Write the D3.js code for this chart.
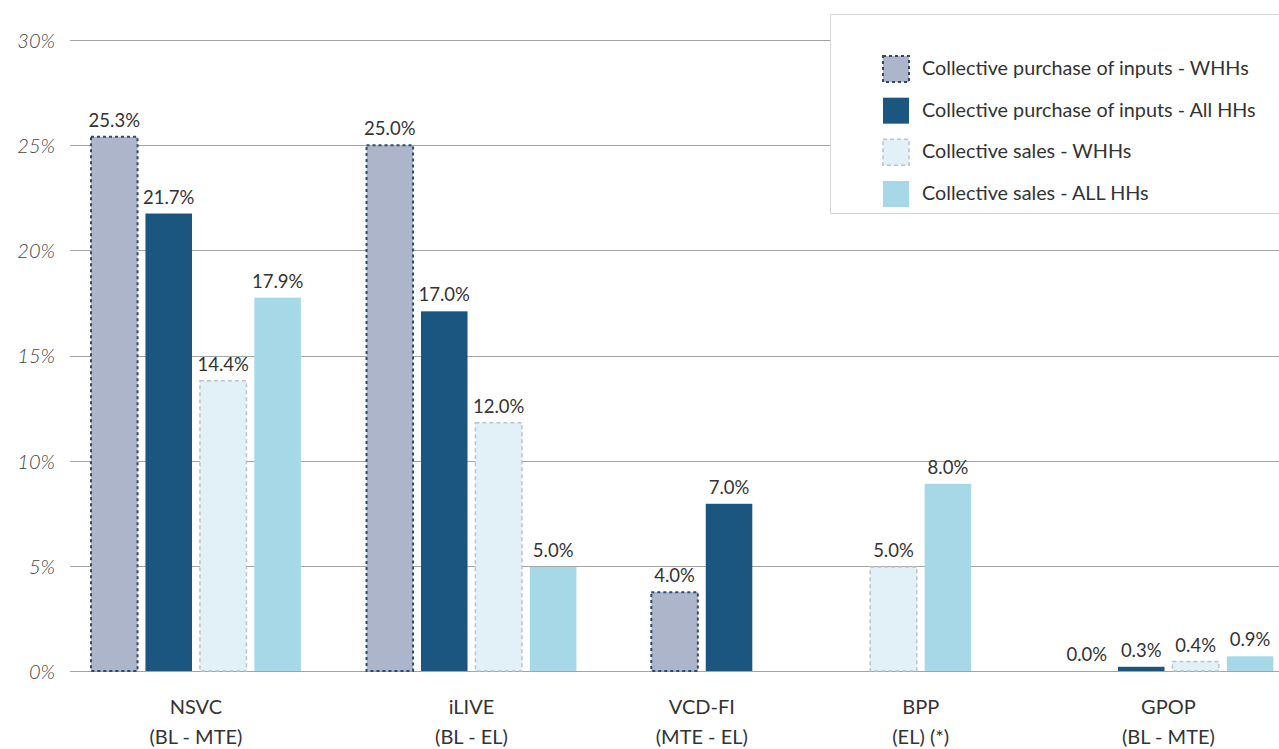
<!DOCTYPE html>
<html>
<head>
<meta charset="utf-8">
<script src="https://cdn.jsdelivr.net/npm/d3@7"></script>
<style>
  html, body { margin: 0; padding: 0; background: #fff; overflow: hidden; }
  svg { display: block; font-family: Lato, "Open Sans", sans-serif; }
</style>
</head>
<body>
<svg id="chart" width="1279" height="749"></svg>
<script>
// ---------- data ----------
const categories = ["NSVC", "iLIVE", "VCD-FI", "BPP", "GPOP"];
const categoryPeriods = ["(BL - MTE)", "(BL - EL)", "(MTE - EL)", "(EL) (*)", "(BL - MTE)"];

const seriesNames = [
  "Collective purchase of inputs - WHHs",
  "Collective purchase of inputs - All HHs",
  "Collective sales - WHHs",
  "Collective sales - ALL HHs"
];

// bar heights as drawn in the picture (percent); null = no bar
const purchaseWHH = [25.4, 25.0, 3.75, null, 0];
const purchaseAll = [21.75, 17.1, 7.95, null, 0.2];
const salesWHH    = [13.8, 11.8, null, 4.95, 0.45];
const salesAll    = [17.75, 4.95, null, 8.9, 0.7];

// value labels as printed
const purchaseWHHLabels = ["25.3%", "25.0%", "4.0%", null, "0.0%"];
const purchaseAllLabels = ["21.7%", "17.0%", "7.0%", null, "0.3%"];
const salesWHHLabels    = ["14.4%", "12.0%", null, "5.0%", "0.4%"];
const salesAllLabels    = ["17.9%", "5.0%", null, "8.0%", "0.9%"];

const yTicks = [0, 5, 10, 15, 20, 25, 30];
const yTickLabels = ["0%", "5%", "10%", "15%", "20%", "25%", "30%"];

// ---------- layout / style ----------
const seriesValues = [purchaseWHH, purchaseAll, salesWHH, salesAll];
const seriesLabels = [purchaseWHHLabels, purchaseAllLabels, salesWHHLabels, salesAllLabels];
const seriesStyle = [
  { fill: "#adb5cb", stroke: "#2c4a6d", dash: "3,3", sw: 2 },
  { fill: "#1b5680", stroke: "none", dash: null, sw: 0 },
  { fill: "#e1f1f7", stroke: "#b9c3ca", dash: "4,3", sw: 1.5 },
  { fill: "#a6d8e8", stroke: "none", dash: null, sw: 0 }
];
// starting slot of each category group (in bar-step units)
const groupStartSlot = [0, 5.06, 10.29, 14.31, 17.86];
const barWidthSlots = 0.855;

const svg = d3.select("#chart");
const W = 1279;
const plotLeft = 70, plotRight = W;

const y = d3.scaleLinear().domain([0, 30]).range([671, 40]);
const xSlot = d3.scaleLinear().domain([0, 20]).range([91, 91 + 20 * 54.45]);

// gridlines
svg.append("g").selectAll("line")
  .data(yTicks).join("line")
  .attr("x1", plotLeft).attr("x2", plotRight)
  .attr("y1", d => Math.round(y(d)) + 0.5).attr("y2", d => Math.round(y(d)) + 0.5)
  .attr("stroke", "#a3a3a3").attr("stroke-width", 1);

// y tick labels
svg.append("g").selectAll("text")
  .data(yTicks).join("text")
  .attr("x", 55).attr("y", d => y(d) + 3)
  .attr("text-anchor", "end").attr("dominant-baseline", "middle")
  .attr("font-size", 20).attr("font-style", "italic").attr("font-weight", 300)
  .attr("fill", "#444")
  .text((d, i) => yTickLabels[i]);

// build bar records
const bars = [];
const groupCenters = [];
categories.forEach((cat, ci) => {
  let slot = groupStartSlot[ci];
  const first = slot;
  seriesValues.forEach((vals, si) => {
    if (vals[ci] === null) return;
    bars.push({ ci, si, value: vals[ci], label: seriesLabels[si][ci], slot });
    slot += 1;
  });
  const last = slot - 1;
  groupCenters.push((xSlot(first) + xSlot(last + barWidthSlots)) / 2);
});

const bw = xSlot(barWidthSlots) - xSlot(0);

// bars
svg.append("g").selectAll("rect")
  .data(bars).join("rect")
  .attr("x", d => xSlot(d.slot))
  .attr("y", d => y(d.value))
  .attr("width", bw)
  .attr("height", d => y(0) - y(d.value))
  .attr("fill", d => seriesStyle[d.si].fill)
  .attr("stroke", d => d.value > 0 ? seriesStyle[d.si].stroke : "none")
  .attr("stroke-width", d => seriesStyle[d.si].sw)
  .attr("stroke-dasharray", d => seriesStyle[d.si].dash);

// value labels
svg.append("g").selectAll("text")
  .data(bars).join("text")
  .attr("x", d => xSlot(d.slot) + bw / 2)
  .attr("y", d => y(d.value) - 10)
  .attr("text-anchor", "middle")
  .attr("font-size", 18.5).attr("fill", "#333")
  .text(d => d.label);

// category labels
const catG = svg.append("g");
catG.selectAll("text.cat")
  .data(categories).join("text").attr("class", "cat")
  .attr("x", (d, i) => groupCenters[i]).attr("y", 714)
  .attr("text-anchor", "middle").attr("font-size", 20).attr("fill", "#333")
  .text(d => d);
catG.selectAll("text.per")
  .data(categoryPeriods).join("text").attr("class", "per")
  .attr("x", (d, i) => groupCenters[i]).attr("y", 744)
  .attr("text-anchor", "middle").attr("font-size", 20).attr("fill", "#333")
  .text(d => d);

// legend (box open on the right, running off the edge)
const lg = svg.append("g");
const lgX = 830.5, lgY = 14.5, lgB = 213.5;
lg.append("rect")
  .attr("x", lgX).attr("y", lgY).attr("width", W - lgX).attr("height", lgB - lgY)
  .attr("fill", "#fff").attr("stroke", "none");
lg.append("path")
  .attr("d", `M${W},${lgY}H${lgX}V${lgB}H${W}`)
  .attr("fill", "none").attr("stroke", "#d4d4d4").attr("stroke-width", 1);
const legendY = d3.scaleLinear().domain([0, 3]).range([55, 180]);
const items = lg.selectAll("g.item").data(seriesNames).join("g").attr("class", "item")
  .attr("transform", (d, i) => `translate(882,${legendY(i)})`);
items.append("rect")
  .attr("x", 1).attr("y", 1).attr("width", 26).attr("height", 26)
  .attr("fill", (d, i) => seriesStyle[i].fill)
  .attr("stroke", (d, i) => seriesStyle[i].stroke)
  .attr("stroke-width", (d, i) => seriesStyle[i].sw)
  .attr("stroke-dasharray", (d, i) => seriesStyle[i].dash);
items.append("text")
  .attr("x", 40).attr("y", 15).attr("dominant-baseline", "middle")
  .attr("font-size", 19.8).attr("fill", "#333")
  .text(d => d);
</script>
</body>
</html>
